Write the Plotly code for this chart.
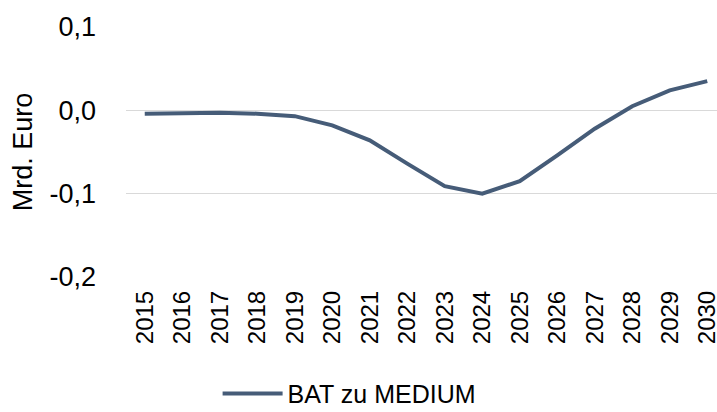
import plotly.graph_objects as go

years = [str(y) for y in range(2015, 2031)]
values = [-0.004, -0.003, -0.003, -0.004, -0.007, -0.018, -0.036, -0.064,
          -0.091, -0.100, -0.085, -0.054, -0.022, 0.005, 0.024, 0.035]
series_name = "BAT zu MEDIUM"
y_tickvals = [0.1, 0.0, -0.1, -0.2]
y_ticktext = ["0,1", "0,0", "-0,1", "-0,2"]

fig = go.Figure()
fig.add_trace(go.Scatter(
    x=years, y=values, mode="lines", name=series_name,
    line=dict(color="#465C78", width=4),
))

fam = "Liberation Sans, Arial, sans-serif"
yfont = dict(family=fam, size=27, color="#000000")
xfont = dict(family=fam, size=24, color="#000000")
lfont = dict(family=fam, size=25, color="#000000")

fig.update_layout(
    width=717, height=412,
    margin=dict(l=126, r=0, t=27, b=135),
    paper_bgcolor="white", plot_bgcolor="white",
    font=xfont,
    showlegend=True,
    legend=dict(orientation="h", x=0.155, xanchor="left",
                yref="container", y=0.1, yanchor="top",
                font=lfont, itemwidth=60),
    xaxis=dict(type="category", range=[-0.5, 15.26], tickangle=-90,
               showgrid=False, showline=False, ticks="", tickfont=xfont,
               ticklabelstandoff=8, automargin=False),
    yaxis=dict(range=[-0.2, 0.1], tickvals=y_tickvals, ticktext=y_ticktext,
               showgrid=True, gridcolor="#D9D9D9", gridwidth=1, zeroline=False,
               showline=False, ticks="", tickfont=yfont, ticklabelstandoff=29,
               automargin=False,
               title=dict(text="Mrd. Euro", font=yfont, standoff=9)),
)

fig.write_html("out.html", config={"displayModeBar": False},
               post_script="document.body.style.margin='0';")
